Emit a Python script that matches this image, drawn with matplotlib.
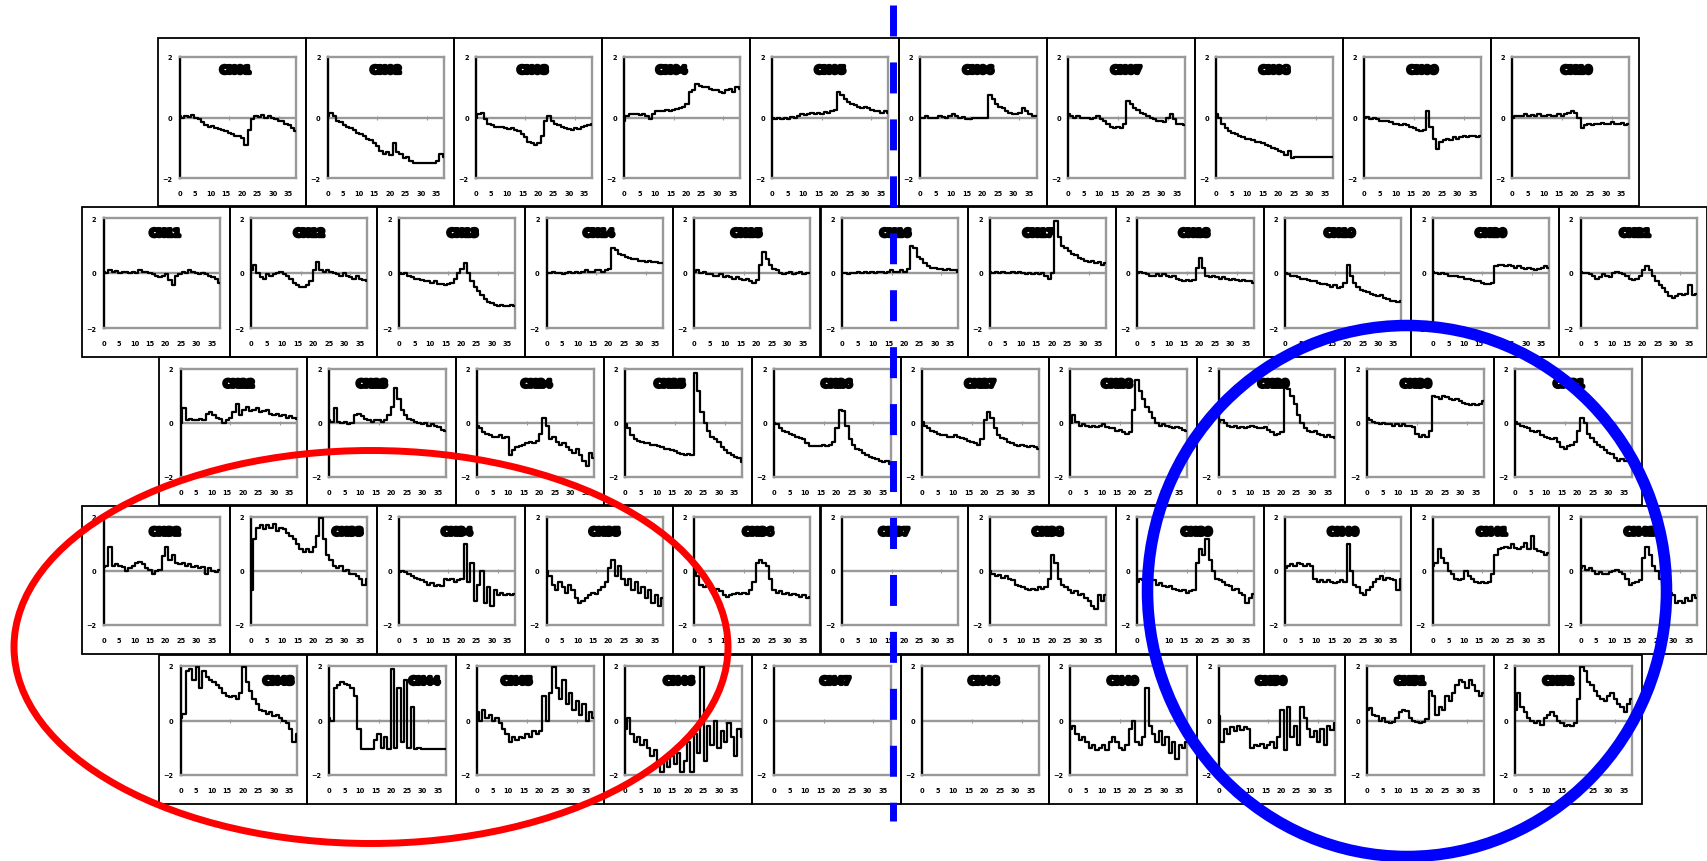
import numpy as np
import matplotlib.pyplot as plt
import matplotlib.patheffects as pe
from matplotlib.patches import Rectangle, Ellipse

W, H = 1707, 862
plt.rcParams["lines.scale_dashes"] = False

# --- channel traces (values on a -2..2 scale) ---
ch01 = [0.05, 0.0, 0.05, 0.02, 0.08, 0.0, -0.05, -0.15, -0.25, -0.3, -0.28, -0.35, -0.38, -0.4, -0.45, -0.5, -0.55, -0.6,
        -0.62, -0.68, -0.9, -0.4, -0.05, 0.05, 0.02, 0.08, 0.0, 0.05, 0.0, -0.05, -0.1, -0.1, -0.2, -0.25, -0.35, -0.45]
ch02 = [0.05, 0.15, 0.05, -0.1, -0.15, -0.25, -0.3, -0.35, -0.4, -0.5, -0.55, -0.6, -0.7, -0.75, -0.85, -0.95, -1.1, -1.2,
        -1.15, -1.25, -0.85, -1.15, -1.2, -1.35, -1.3, -1.45, -1.5, -1.5, -1.5, -1.5, -1.5, -1.5, -1.5, -1.45, -1.2, -1.3]
ch03 = [0.0, 0.1, 0.15, -0.05, -0.2, -0.25, -0.3, -0.3, -0.33, -0.35, -0.38, -0.35, -0.4, -0.45, -0.55, -0.65, -0.8, -0.85,
        -0.9, -0.85, -0.6, -0.1, 0.05, -0.1, -0.2, -0.25, -0.3, -0.35, -0.38, -0.4, -0.35, -0.38, -0.3, -0.28, -0.25, -0.2]
ch04 = [-0.1, 0.05, 0.1, 0.1, 0.12, 0.08, 0.1, 0.05, -0.05, 0.1, 0.2, 0.2, 0.22, 0.25, 0.2, 0.25, 0.28, 0.3,
        0.35, 0.45, 0.85, 0.9, 1.1, 1.05, 1.0, 1.0, 0.95, 0.9, 0.9, 0.85, 0.8, 0.9, 0.95, 0.85, 1.0, 0.95]
ch05 = [0.0, -0.05, 0.0, -0.05, 0.0, -0.05, 0.02, 0.0, 0.05, 0.1, 0.08, 0.12, 0.15, 0.1, 0.15, 0.12, 0.18, 0.15,
        0.2, 0.25, 0.85, 0.75, 0.6, 0.5, 0.45, 0.4, 0.35, 0.3, 0.35, 0.3, 0.25, 0.2, 0.2, 0.15, 0.2, 0.15]
ch06 = [0.0, 0.0, 0.05, 0.0, -0.02, 0.0, 0.05, 0.02, 0.0, 0.05, 0.1, 0.05, 0.0, 0.02, -0.05, -0.05, 0.0, -0.02,
        0.0, -0.02, 0.0, 0.75, 0.6, 0.45, 0.35, 0.3, 0.2, 0.15, 0.1, 0.1, 0.15, 0.3, 0.2, 0.1, 0.05, 0.05]
ch07 = [0.1, 0.05, 0.0, 0.05, 0.0, -0.02, 0.0, -0.05, 0.0, 0.05, -0.05, -0.1, -0.2, -0.3, -0.35, -0.3, -0.35, -0.2,
        0.55, 0.45, 0.3, 0.25, 0.15, 0.1, 0.05, 0.0, -0.05, -0.1, -0.1, -0.15, 0.0, 0.1, -0.05, -0.2, -0.2, -0.25]
ch08 = [0.1, 0.0, -0.2, -0.35, -0.45, -0.5, -0.55, -0.6, -0.65, -0.7, -0.7, -0.75, -0.8, -0.8, -0.85, -0.9, -0.95, -1.0,
        -1.05, -1.1, -1.15, -1.25, -1.1, -1.35, -1.3, -1.3, -1.3, -1.3, -1.3, -1.3, -1.3, -1.3, -1.3, -1.3, -1.3, -1.3]
ch09 = [0.0, 0.02, -0.05, 0.0, -0.05, -0.1, -0.1, -0.12, -0.15, -0.2, -0.2, -0.25, -0.22, -0.25, -0.3, -0.35, -0.4, -0.45,
        -0.4, 0.2, -0.3, -0.7, -1.05, -0.8, -0.75, -0.7, -0.75, -0.65, -0.7, -0.65, -0.6, -0.65, -0.6, -0.62, -0.65, -0.6]
ch10 = [0.0, 0.05, 0.05, 0.05, 0.1, 0.05, 0.08, 0.05, 0.1, 0.05, 0.05, 0.08, 0.05, 0.05, 0.1, 0.05, 0.1, 0.15,
        0.2, 0.15, 0.0, -0.35, -0.25, -0.2, -0.25, -0.22, -0.2, -0.18, -0.2, -0.2, -0.15, -0.2, -0.2, -0.18, -0.25, -0.2]
ch11 = [0.05, 0.0, 0.1, 0.05, 0.08, 0.0, 0.05, 0.02, 0.0, 0.05, 0.0, 0.1, 0.05, 0.02, 0.0, -0.05, -0.1, -0.15,
        -0.1, -0.05, -0.25, -0.45, -0.1, -0.05, 0.05, 0.0, 0.1, 0.05, 0.0, -0.05, 0.0, -0.05, -0.1, -0.15, -0.2, -0.35]
ch12 = [0.1, 0.3, 0.0, -0.15, -0.2, -0.05, -0.1, -0.05, 0.0, 0.05, -0.05, -0.1, -0.2, -0.35, -0.45, -0.5, -0.5, -0.45,
        -0.3, 0.1, 0.4, 0.1, 0.05, 0.1, 0.05, 0.0, -0.05, -0.1, 0.0, -0.1, -0.15, -0.2, -0.1, -0.2, -0.25, -0.3]
ch13 = [0.0, -0.05, 0.0, -0.1, -0.15, -0.2, -0.2, -0.25, -0.3, -0.3, -0.35, -0.3, -0.4, -0.4, -0.45, -0.4, -0.35, -0.2,
        0.0, 0.15, 0.35, 0.0, -0.3, -0.5, -0.65, -0.8, -0.95, -1.05, -1.1, -1.15, -1.2, -1.15, -1.2, -1.2, -1.15, -1.2]
ch14 = [0.0, 0.0, 0.05, 0.0, 0.0, -0.05, 0.0, 0.05, 0.0, 0.05, 0.0, 0.05, 0.1, 0.05, 0.05, 0.1, 0.1, 0.05,
        0.1, 0.15, 0.9, 0.85, 0.7, 0.65, 0.6, 0.55, 0.5, 0.5, 0.45, 0.45, 0.4, 0.45, 0.4, 0.4, 0.35, 0.35]
ch15 = [0.05, 0.1, 0.0, 0.05, -0.05, -0.05, -0.1, -0.1, -0.05, -0.15, -0.1, -0.15, -0.2, -0.15, -0.2, -0.25, -0.2, -0.3,
        -0.35, -0.25, 0.3, 0.75, 0.5, 0.3, 0.15, 0.1, 0.0, -0.05, 0.0, 0.05, -0.05, 0.0, 0.05, -0.05, 0.0, 0.0]
ch16 = [0.0, 0.0, -0.05, 0.0, 0.0, 0.02, 0.0, 0.05, 0.0, 0.05, 0.0, 0.05, 0.05, 0.0, 0.05, 0.1, 0.05, 0.05,
        0.1, 0.05, 0.15, 1.0, 0.9, 0.6, 0.5, 0.35, 0.25, 0.2, 0.2, 0.15, 0.15, 0.1, 0.15, 0.1, 0.1, 0.05]
ch17 = [0.05, 0.0, 0.05, 0.0, 0.02, 0.0, 0.0, 0.05, 0.0, 0.02, 0.0, -0.05, 0.0, -0.05, 0.0, -0.05, 0.0, -0.1,
        -0.2, 0.0, 1.9, 1.3, 1.0, 0.9, 0.8, 0.7, 0.65, 0.55, 0.5, 0.45, 0.4, 0.45, 0.35, 0.4, 0.3, 0.35]
ch18 = [0.0, 0.05, 0.0, -0.05, -0.1, -0.1, -0.05, -0.1, -0.05, -0.1, -0.15, -0.1, -0.2, -0.25, -0.3, -0.25, -0.3, -0.25,
        0.2, 0.55, 0.2, -0.1, -0.15, -0.1, -0.15, -0.2, -0.15, -0.2, -0.25, -0.2, -0.25, -0.3, -0.25, -0.3, -0.3, -0.35]
ch19 = [0.0, -0.05, -0.1, -0.1, -0.15, -0.2, -0.2, -0.25, -0.3, -0.3, -0.35, -0.4, -0.4, -0.45, -0.5, -0.45, -0.55, -0.5,
        -0.35, 0.3, -0.1, -0.35, -0.5, -0.6, -0.65, -0.7, -0.75, -0.8, -0.85, -0.8, -0.9, -0.95, -1.0, -1.0, -1.05, -1.0]
ch20 = [0.05, 0.0, -0.05, 0.0, -0.05, -0.1, -0.1, -0.1, -0.15, -0.15, -0.2, -0.2, -0.25, -0.3, -0.3, -0.35, -0.4, -0.4,
        -0.35, 0.25, 0.3, 0.3, 0.25, 0.3, 0.25, 0.2, 0.25, 0.2, 0.15, 0.2, 0.15, 0.1, 0.15, 0.2, 0.25, 0.2]
ch21 = [0.05, 0.0, 0.0, -0.05, -0.1, -0.2, -0.15, -0.05, -0.1, -0.15, 0.0, 0.05, 0.0, -0.05, -0.1, -0.2, -0.25, -0.2,
        -0.1, 0.1, 0.25, 0.1, -0.1, -0.3, -0.45, -0.55, -0.7, -0.85, -0.9, -0.85, -0.75, -0.8, -0.75, -0.45, -0.8, -0.75]
ch22 = [0.0, 0.55, 0.1, 0.15, 0.1, 0.1, 0.15, 0.1, 0.35, 0.4, 0.3, 0.2, 0.15, 0.0, 0.1, 0.2, 0.4, 0.7,
        0.3, 0.5, 0.6, 0.45, 0.5, 0.55, 0.4, 0.45, 0.5, 0.35, 0.3, 0.35, 0.25, 0.3, 0.2, 0.25, 0.2, 0.15]
ch23 = [0.1, 0.05, 0.55, 0.05, 0.0, 0.05, -0.05, 0.0, 0.3, 0.35, 0.25, 0.15, 0.1, 0.05, 0.1, 0.1, 0.05, 0.1,
        0.3, 0.6, 1.3, 0.9, 0.5, 0.3, 0.15, 0.1, 0.05, 0.0, -0.05, 0.0, -0.1, -0.05, -0.1, -0.15, -0.25, -0.3]
ch24 = [-0.1, -0.2, -0.35, -0.4, -0.45, -0.5, -0.5, -0.45, -0.55, -0.5, -1.2, -1.0, -0.9, -0.85, -0.8, -0.75, -0.7, -0.75,
        -0.65, -0.4, 0.2, -0.1, -0.6, -0.5, -0.7, -0.8, -0.75, -0.9, -1.0, -1.1, -0.95, -1.2, -1.4, -1.6, -1.1, -1.3]
ch25 = [-0.05, -0.2, -0.45, -0.6, -0.65, -0.7, -0.75, -0.75, -0.8, -0.8, -0.85, -0.9, -0.95, -0.95, -1.0, -1.05, -1.1, -1.15,
        -1.2, -1.15, -1.2, 1.85, 1.2, 0.4, 0.0, -0.3, -0.5, -0.6, -0.7, -0.9, -1.0, -1.1, -1.2, -1.25, -1.3, -1.45]
ch26 = [0.0, -0.05, -0.2, -0.3, -0.35, -0.4, -0.45, -0.5, -0.55, -0.6, -0.75, -0.85, -0.85, -0.85, -0.85, -0.8, -0.85, -0.8,
        -0.7, -0.2, 0.5, 0.45, -0.1, -0.6, -0.8, -0.95, -1.0, -1.1, -1.2, -1.25, -1.3, -1.35, -1.4, -1.45, -1.4, -1.5]
ch27 = [0.05, -0.1, -0.2, -0.3, -0.35, -0.4, -0.45, -0.45, -0.5, -0.5, -0.45, -0.5, -0.55, -0.6, -0.65, -0.7, -0.75, -0.8,
        -0.6, 0.1, 0.4, 0.2, -0.2, -0.45, -0.55, -0.6, -0.7, -0.75, -0.8, -0.85, -0.8, -0.85, -0.9, -0.85, -0.9, -0.95]
ch28 = [0.0, 0.3, 0.05, -0.1, -0.05, -0.1, -0.15, -0.1, -0.15, -0.1, -0.05, -0.15, -0.2, -0.2, -0.3, -0.25, -0.35, -0.4,
        -0.35, 0.5, 1.6, 1.2, 0.9, 0.6, 0.4, 0.2, 0.0, -0.1, -0.05, -0.1, -0.15, -0.2, -0.15, -0.2, -0.25, -0.3]
ch29 = [0.05, 0.1, 0.0, -0.1, -0.15, -0.1, -0.2, -0.15, -0.2, -0.15, -0.1, -0.15, -0.2, -0.2, -0.15, -0.25, -0.35, -0.45,
        -0.4, -0.35, 1.3, 1.25, 1.0, 0.7, 0.3, 0.0, -0.2, -0.3, -0.35, -0.3, -0.4, -0.45, -0.5, -0.45, -0.5, -0.55]
ch30 = [0.2, 0.1, 0.05, 0.0, -0.05, 0.0, -0.05, -0.05, -0.1, -0.05, -0.1, -0.05, -0.1, -0.1, -0.15, -0.4, -0.5, -0.45,
        -0.5, -0.3, 1.0, 0.95, 0.9, 1.0, 0.95, 0.9, 0.85, 0.9, 0.8, 0.75, 0.7, 0.65, 0.7, 0.65, 0.7, 0.8]
ch31 = [0.05, -0.05, -0.1, -0.15, -0.2, -0.3, -0.35, -0.3, -0.45, -0.5, -0.55, -0.6, -0.55, -0.7, -0.9, -0.95, -0.85, -0.8,
        -0.7, -0.3, 0.2, 0.0, -0.4, -0.55, -0.7, -0.8, -0.9, -1.0, -1.1, -1.15, -1.3, -1.4, -1.35, -1.4, -1.3, -1.35]
ch32 = [0.15, 0.2, 0.9, 0.2, 0.25, 0.2, 0.15, 0.0, 0.1, 0.2, 0.3, 0.35, 0.25, 0.1, 0.05, -0.1, 0.0, 0.05,
        0.55, 0.9, 0.4, 0.6, 0.3, 0.25, 0.3, 0.2, 0.25, 0.15, 0.2, 0.1, 0.15, -0.1, 0.1, 0.0, -0.05, 0.05]
ch33 = [-0.7, 1.2, 1.6, 1.7, 1.55, 1.7, 1.6, 1.75, 1.5, 1.6, 1.55, 1.4, 1.3, 1.2, 1.0, 0.8, 0.7, 0.8,
        0.7, 0.9, 1.3, 1.95, 1.2, 0.6, 0.4, 0.2, 0.1, 0.2, 0.0, 0.05, -0.1, -0.1, -0.2, -0.3, -0.5, -0.3]
ch34 = [-0.05, 0.0, -0.05, -0.1, -0.2, -0.25, -0.3, -0.35, -0.4, -0.5, -0.45, -0.55, -0.5, -0.55, -0.3, -0.35, -0.3, -0.4,
        -0.35, -0.3, 1.0, -0.4, 0.3, -1.1, -0.5, 0.0, -1.2, -0.6, -1.3, -0.7, -0.9, -0.8, -0.9, -0.85, -0.9, -0.85]
ch35 = [0.0, -0.2, -0.5, -0.7, -0.4, -0.6, -0.8, -0.5, -0.7, -1.0, -1.2, -1.1, -1.0, -0.9, -0.8, -0.85, -0.7, -0.6,
        -0.4, 0.1, 0.4, -0.2, 0.2, -0.3, -0.5, -0.3, -0.7, -0.4, -0.8, -0.6, -1.0, -0.7, -1.2, -0.9, -1.3, -1.0]
ch36 = [0.1, -0.2, -0.5, -0.6, -0.55, -0.6, -0.7, -0.65, -0.75, -0.9, -0.95, -0.9, -0.85, -0.8, -0.85, -0.8, -0.85, -0.7,
        -0.4, 0.3, 0.4, 0.3, 0.2, -0.3, -0.7, -0.8, -0.75, -0.85, -0.8, -0.9, -0.85, -0.9, -0.95, -0.9, -1.0, -0.95]
ch37 = []
ch38 = [0.0, -0.1, -0.2, -0.15, -0.25, -0.2, -0.3, -0.35, -0.5, -0.55, -0.6, -0.65, -0.7, -0.65, -0.7, -0.6, -0.65, -0.6,
        -0.3, 0.6, 0.3, -0.3, -0.5, -0.6, -0.7, -0.8, -0.75, -0.9, -0.85, -1.0, -1.1, -1.3, -1.4, -0.9, -1.1, -0.9]
ch39 = [-0.4, -0.3, -0.35, -0.25, -0.3, -0.35, -0.5, -0.45, -0.55, -0.6, -0.55, -0.65, -0.7, -0.75, -0.7, -0.8, -0.75, -0.7,
        0.3, 0.8, 0.6, 1.2, 0.4, 0.0, -0.3, -0.35, -0.4, -0.5, -0.55, -0.7, -0.65, -0.8, -0.9, -1.2, -1.0, -0.85]
ch40 = [0.1, 0.2, 0.25, 0.2, 0.3, 0.25, 0.2, 0.25, 0.2, -0.3, -0.4, -0.35, -0.4, -0.35, -0.4, -0.45, -0.4, -0.35,
        -0.4, 1.0, 0.0, -0.5, -0.6, -0.8, -0.9, -0.7, -0.6, -0.4, -0.3, -0.2, -0.35, -0.25, -0.3, -0.35, -0.7, -0.3]
ch41 = [0.2, 0.3, 0.8, 0.5, 0.3, 0.0, -0.1, -0.3, -0.35, -0.3, 0.0, -0.2, -0.3, -0.4, -0.45, -0.4, -0.45, -0.4,
        -0.1, 0.6, 0.8, 0.85, 0.9, 0.85, 1.0, 0.85, 0.8, 0.9, 1.05, 0.8, 1.3, 0.8, 0.75, 0.7, 0.6, 0.65]
ch42 = [0.1, 0.2, 0.05, 0.1, 0.0, -0.1, -0.05, -0.1, -0.1, -0.05, 0.0, 0.05, -0.05, -0.1, -0.3, -0.5, -0.45, -0.4,
        -0.35, 0.5, 0.9, 0.6, 0.2, 0.0, -0.3, -0.5, -0.7, -0.8, -0.9, -1.2, -1.1, -1.2, -1.0, -1.1, -0.9, -1.0]
ch43 = [0.1, 0.25, 1.8, 1.9, 1.5, 1.95, 1.2, 1.8, 1.6, 1.5, 1.4, 1.3, 1.2, 1.0, 0.9, 0.85, 0.9, 0.8,
        1.0, 1.95, 1.4, 1.1, 0.8, 0.6, 0.4, 0.35, 0.25, 0.3, 0.15, 0.2, 0.1, 0.0, -0.1, -0.3, -0.8, -0.5]
ch44 = [0.1, 0.0, 1.2, 1.3, 1.4, 1.35, 1.3, 1.2, 0.9, -0.3, -1.05, -1.05, -1.05, -1.05, -0.7, -0.5, -1.0, -0.6,
        -1.05, 1.9, -1.0, 1.2, -0.8, 1.5, -1.0, 0.5, -1.05, -1.0, -1.05, -1.05, -1.05, -1.05, -1.05, -1.05, -1.05, -1.05]
ch45 = [0.3, 0.0, 0.4, 0.1, 0.2, 0.0, 0.1, -0.1, -0.3, -0.5, -0.8, -0.6, -0.7, -0.6, -0.65, -0.5, -0.6, -0.4,
        -0.5, -0.4, 0.9, 0.0, 1.0, 1.95, 1.2, 0.8, 1.5, 0.6, 1.0, 0.4, 0.7, 0.2, 0.6, 0.0, 0.3, 0.1]
ch46 = [-0.3, 0.1, -0.5, -0.8, -0.6, -0.9, -0.7, -1.0, -1.3, -1.1, -1.5, -1.9, -1.4, -1.7, -1.3, -1.6, -1.2, -1.9,
        -1.5, -0.8, -1.9, -0.5, -1.2, 1.95, -1.5, -0.2, -0.9, 0.0, -1.0, -0.4, -0.8, -0.1, -0.6, -1.3, -0.3, -0.6]
ch47 = []
ch48 = []
ch49 = [-0.3, -0.2, -0.5, -0.7, -0.6, -0.8, -1.0, -0.9, -1.1, -1.0, -0.9, -1.1, -0.8, -0.6, -0.8, -1.0, -1.1, -0.9,
        -0.3, 0.0, -0.8, -0.9, -0.6, 1.2, -0.2, -0.5, -0.8, -0.4, -0.9, -0.6, -1.2, -0.8, -1.4, -0.9, -1.0, -0.8]
ch50 = [0.15, -0.8, -0.3, -0.5, -0.25, -0.4, -0.2, -0.35, -0.25, -0.3, -1.0, -0.9, -0.95, -0.85, -1.0, -0.9, -0.8, -1.0,
        -0.6, 0.4, -1.1, 0.5, -0.6, -0.2, -0.9, 0.5, 0.1, -0.3, -0.6, -0.4, -0.8, -0.3, -0.9, -0.2, -0.35, -0.1]
ch51 = [0.4, 0.45, 0.2, 0.15, 0.0, 0.1, -0.05, -0.1, -0.05, 0.1, 0.3, 0.4, 0.35, 0.1, 0.0, -0.05, -0.1, -0.05,
        0.05, 1.1, 0.9, 0.2, 0.5, 0.4, 0.9, 0.7, 1.0, 1.3, 1.5, 1.4, 1.2, 1.5, 1.3, 1.1, 0.9, 1.0]
ch52 = [0.4, 1.0, 0.5, 0.3, 0.1, 0.0, -0.1, 0.0, -0.15, 0.1, 0.2, 0.3, 0.15, 0.0, -0.1, -0.2, -0.15, -0.2,
        -0.1, 0.8, 1.95, 1.8, 1.4, 1.3, 1.1, 0.9, 0.8, 0.7, 0.9, 1.0, 0.8, 0.6, 0.5, 0.3, 0.6, 0.8]

series = [ch01, ch02, ch03, ch04, ch05, ch06, ch07, ch08, ch09, ch10,
          ch11, ch12, ch13, ch14, ch15, ch16, ch17, ch18, ch19, ch20, ch21,
          ch22, ch23, ch24, ch25, ch26, ch27, ch28, ch29, ch30, ch31,
          ch32, ch33, ch34, ch35, ch36, ch37, ch38, ch39, ch40, ch41, ch42,
          ch43, ch44, ch45, ch46, ch47, ch48, ch49, ch50, ch51, ch52]
channels = [f"CH{i:02d}" for i in range(1, 53)]

# where the channel name sits across each little plot (fraction of its width)
label_x = [0.48, 0.5, 0.49, 0.41, 0.5, 0.5, 0.5, 0.5, 0.5, 0.55,
           0.53, 0.5, 0.55, 0.45, 0.45, 0.46, 0.42, 0.49, 0.47, 0.5, 0.47,
           0.5, 0.37, 0.51, 0.38, 0.54, 0.5, 0.4, 0.47, 0.42, 0.46,
           0.53, 0.83, 0.5, 0.5, 0.55, 0.45, 0.5, 0.51, 0.5, 0.51, 0.51,
           0.84, 0.82, 0.34, 0.46, 0.53, 0.53, 0.45, 0.45, 0.37, 0.37]

x_ticks = [0, 5, 10, 15, 20, 25, 30, 35]
x_max = 37.5
y_ticks = [-2, 0, 2]
y_tick_labels = ["\u22122", "0", "2"]

# rows of boxes: top px, bottom px, first left px, count, box width, axes top pad, axes bottom pad
ROWS = [
    (39, 207, 158, 10, 148.1, 19, 28),
    (208, 358, 82, 11, 147.7, 11, 29),
    (358, 506, 159, 10, 148.3, 12, 28),
    (507, 655, 82, 11, 147.7, 11, 29),
    (656, 805, 159, 10, 148.3, 11, 29),
]
GRAY = "#999999"


def to_fig(left, top, width, height):
    return [left / W, 1 - (top + height) / H, width / W, height / H]


def draw_panel(fig, box, vals, name, lx, ly):
    left, top, width, height, pad_top, pad_bot = box
    fig.add_artist(Rectangle((left / W, 1 - (top + height) / H), width / W, height / H,
                             transform=fig.transFigure, fill=False, ec="black", lw=1.3))
    ax_l = left + 21.5
    ax_w = width - 31.5
    ax_t = top + pad_top
    ax_h = height - pad_top - pad_bot
    ax = fig.add_axes(to_fig(ax_l, ax_t, ax_w, ax_h))
    ax.set_xlim(0, x_max)
    ax.set_ylim(-2, 2)
    ax.axhline(0, color=GRAY, lw=1.7, zorder=1)
    ax.plot([16, 32], [0, 0], ls="", marker="|", ms=3, color=GRAY, mew=0.8)
    if vals:
        t = np.linspace(0, x_max, len(vals))
        ax.plot(t, vals, color="black", lw=1.6, drawstyle="steps-mid", zorder=3)
    for side in ("top", "right", "bottom"):
        ax.spines[side].set_color(GRAY)
        ax.spines[side].set_linewidth(1.7)
    ax.spines["left"].set_color("black")
    ax.spines["left"].set_linewidth(1.7)
    ax.set_yticks(y_ticks)
    ax.set_yticklabels(y_tick_labels, fontsize=4.8, fontweight="heavy")
    ax.set_xticks(x_ticks)
    ax.set_xticklabels([str(v) for v in x_ticks], fontsize=4.8, fontweight="heavy")
    ax.tick_params(axis="y", length=0, pad=5)
    ax.tick_params(axis="x", length=0, pad=8.5)
    ax.text(lx, ly, name, transform=ax.transAxes, ha="center", va="center",
            fontsize=7.5, fontweight="heavy", color="black", zorder=5,
            path_effects=[pe.withStroke(linewidth=2.6, foreground="black")])


def main():
    fig = plt.figure(figsize=(W / 100, H / 100), dpi=100)
    k = 0
    for r, (top, bot, x0, n, w, pad_top, pad_bot) in enumerate(ROWS):
        ly = 0.89 if r == 0 else 0.86
        for i in range(n):
            box = (x0 + i * w, top, w, bot - top, pad_top, pad_bot)
            draw_panel(fig, box, series[k], channels[k], label_x[k], ly)
            k += 1

    # annotation layer in pixel coordinates
    ov = fig.add_axes([0, 0, 1, 1], zorder=10)
    ov.set_xlim(0, W)
    ov.set_ylim(H, 0)
    ov.axis("off")
    ov.patch.set_alpha(0)
    ov.add_patch(Ellipse((371, 648), 714, 393, fill=False, ec="#ff0000", lw=5))
    ov.add_patch(Ellipse((1407, 592), 519, 531, fill=False, ec="#0000ff", lw=8.3))
    ov.plot([893, 893], [6, 822], color="#0000ff", lw=5,
            linestyle=(0, (22.3, 18.7)), dash_capstyle="butt")

    fig.savefig("out.png", dpi=100)
    plt.close(fig)


if __name__ == "__main__":
    main()
